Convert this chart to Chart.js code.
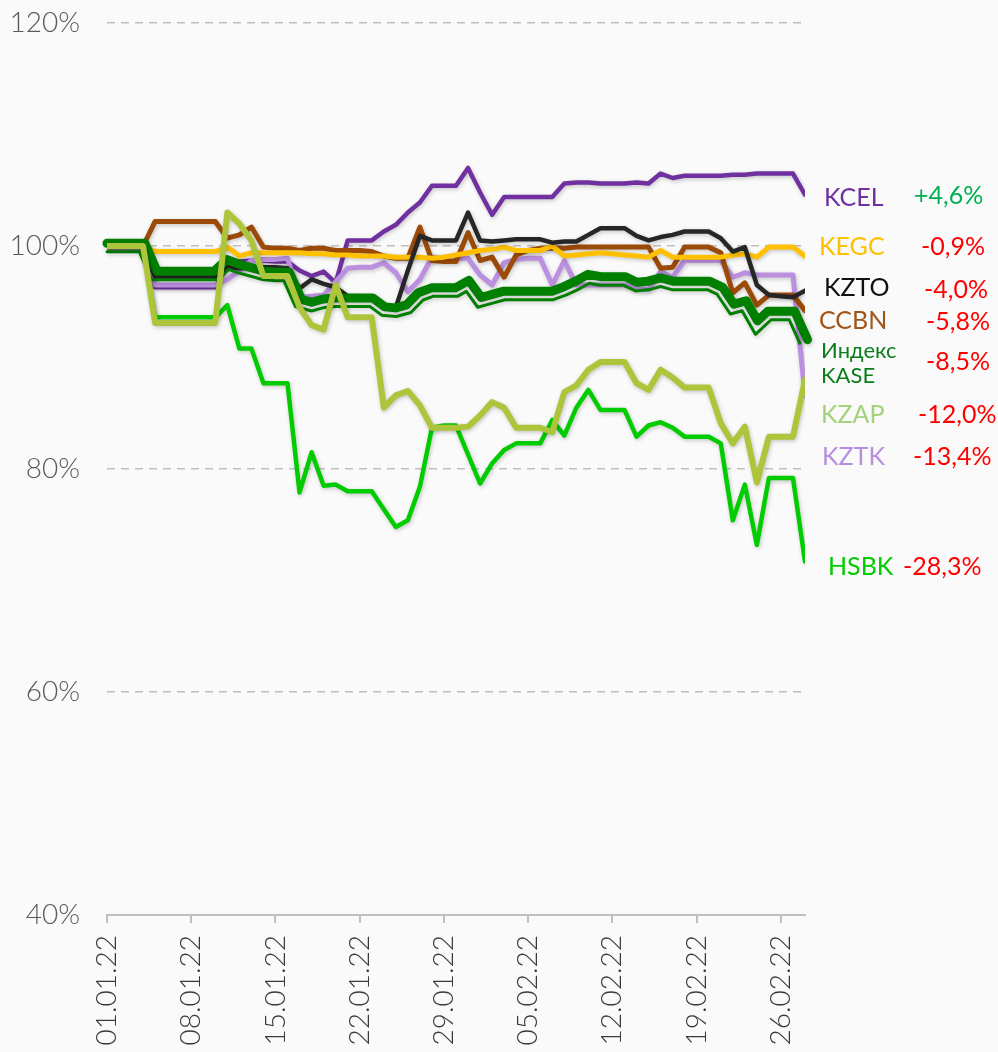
<!DOCTYPE html>
<html>
<head>
<meta charset="utf-8">
<script src="https://cdn.jsdelivr.net/npm/chart.js@4.4.1/dist/chart.umd.min.js"></script>
<style>
  html, body { margin: 0; padding: 0; background: #fafafa; }
  #wrap { position: relative; width: 998px; height: 1052px; }
</style>
</head>
<body>
<div id="wrap"><canvas id="myChart"></canvas></div>
<script>
const dates = [
  '01.01.22','02.01.22','03.01.22','04.01.22','05.01.22','06.01.22','07.01.22','08.01.22','09.01.22','10.01.22',
  '11.01.22','12.01.22','13.01.22','14.01.22','15.01.22','16.01.22','17.01.22','18.01.22','19.01.22','20.01.22',
  '21.01.22','22.01.22','23.01.22','24.01.22','25.01.22','26.01.22','27.01.22','28.01.22','29.01.22','30.01.22',
  '31.01.22','01.02.22','02.02.22','03.02.22','04.02.22','05.02.22','06.02.22','07.02.22','08.02.22','09.02.22',
  '10.02.22','11.02.22','12.02.22','13.02.22','14.02.22','15.02.22','16.02.22','17.02.22','18.02.22','19.02.22',
  '20.02.22','21.02.22','22.02.22','23.02.22','24.02.22','25.02.22','26.02.22','27.02.22','28.02.22'
];

// значения, % к 01.01.22
const kzap = [100,100,100,100,93.1,93.1,93.1,93.1,93.1,93.1,
  103.0,102.0,100.5,97.3,97.3,97.3,94.5,92.9,92.5,96.5,
  93.6,93.6,93.6,85.5,86.6,87.0,85.7,83.7,83.7,83.7,
  83.8,84.8,86.0,85.5,83.7,83.7,83.7,83.3,86.9,87.5,
  88.9,89.6,89.6,89.6,87.7,87.1,88.9,88.2,87.3,87.3,
  87.3,84.1,82.3,83.8,78.8,82.9,82.9,82.9,88.0];
const hsbk = [100,100,100,100,93.6,93.6,93.6,93.6,93.6,93.6,
  94.7,90.8,90.8,87.7,87.7,87.7,77.9,81.5,78.5,78.6,
  78.0,78.0,78.0,76.4,74.8,75.4,78.4,83.7,83.9,83.9,
  81.3,78.7,80.5,81.7,82.3,82.3,82.3,84.4,83.0,85.5,
  87.1,85.3,85.3,85.3,82.9,83.9,84.2,83.7,82.9,82.9,
  82.9,82.3,75.4,78.6,73.2,79.2,79.2,79.2,71.7];
const kase = [100,100,100,100,97.5,97.5,97.5,97.5,97.5,97.5,
  98.5,98.1,97.8,97.5,97.4,97.4,95.0,94.7,95.0,95.1,
  95.1,95.1,95.1,94.3,94.2,94.5,95.6,96.0,96.0,96.0,
  96.6,95.1,95.4,95.7,95.7,95.7,95.7,95.7,96.1,96.6,
  97.2,97.0,97.0,97.0,96.5,96.6,96.9,96.6,96.6,96.6,
  96.6,96.1,94.5,94.8,92.9,93.9,93.9,93.9,91.5];
const kzto = [100,100,100,100,97.2,97.2,97.2,97.2,97.2,97.2,
  98.1,98.0,98.1,98.1,98.1,98.0,96.2,97.0,96.6,96.3,
  95.5,95.4,95.4,94.7,94.5,97.8,100.9,100.5,100.5,100.5,
  103.0,100.5,100.4,100.5,100.6,100.6,100.6,100.3,100.4,100.4,
  101.0,101.6,101.6,101.6,100.9,100.5,100.8,101.0,101.3,101.3,
  101.3,100.7,99.5,99.9,96.5,95.6,95.5,95.4,96.0];
const kegc = [100,100,100,100,99.5,99.5,99.5,99.5,99.5,99.5,
  99.9,99.1,99.4,99.4,99.4,99.4,99.4,99.3,99.3,99.2,
  99.2,99.1,99.1,99.1,99.0,99.0,99.0,98.9,99.0,99.2,
  99.4,99.6,99.7,99.9,99.6,99.6,99.6,100.0,99.1,99.2,
  99.3,99.4,99.3,99.2,99.1,99.0,99.6,99.0,99.0,99.0,
  99.0,99.0,99.2,99.3,99.0,99.9,99.9,99.9,99.1];
const ccbn = [100,100,100,100,102.2,102.2,102.2,102.2,102.2,102.2,
  100.7,101.0,101.7,99.9,99.8,99.8,99.6,99.8,99.8,99.6,
  99.6,99.6,99.5,99.1,98.9,98.9,101.7,98.7,98.6,98.6,
  101.2,98.7,99.0,97.2,99.2,99.6,99.8,99.8,99.8,99.9,
  99.9,99.9,99.9,99.9,99.9,99.9,98.0,98.1,99.9,99.9,
  99.9,99.4,95.8,96.7,94.7,95.6,95.6,95.6,94.2];
const kztk = [100,100,100,100,96.5,96.5,96.5,96.5,96.5,96.5,
  97.0,97.8,98.7,98.8,98.8,98.9,95.4,95.5,95.6,96.8,
  98.0,98.1,98.1,98.5,97.6,95.9,97.0,99.0,98.9,98.9,
  98.9,97.4,96.5,98.5,98.8,98.9,98.9,96.5,98.7,96.5,
  96.5,96.5,96.5,96.5,96.2,96.1,97.7,97.2,98.7,98.7,
  98.7,98.7,97.2,97.6,97.4,97.4,97.4,97.4,86.6];
const kcel = [100,100,100,100,96.3,96.3,96.3,96.3,96.3,96.3,
  98.2,98.6,98.7,98.7,98.6,98.6,97.8,97.3,97.7,96.7,
  100.5,100.5,100.5,101.3,101.9,103.0,103.9,105.4,105.4,105.4,
  107.0,104.8,102.8,104.4,104.4,104.4,104.4,104.4,105.6,105.7,
  105.7,105.6,105.6,105.6,105.7,105.6,106.5,106.1,106.3,106.3,
  106.3,106.3,106.4,106.4,106.5,106.5,106.5,106.5,104.6];

const yTicks = [40, 60, 80, 100, 120];

// порядок: первый рисуется сверху
const series = [
  { name: 'KZAP', data: kzap, color: '#adc53a', width: 6,   text: '#a2d27a' },
  { name: 'HSBK', data: hsbk, color: '#00cc00', width: 4.5, text: '#00cc00' },
  { name: 'Индекс KASE', data: kase, color: '#007f00', width: 9, text: '#0b7d1b', double: true },
  { name: 'KZTO', data: kzto, color: '#262626', width: 4.5, text: '#111111' },
  { name: 'KEGC', data: kegc, color: '#ffc000', width: 5,   text: '#ffc000' },
  { name: 'CCBN', data: ccbn, color: '#9c4a08', width: 5,   text: '#a0561a' },
  { name: 'KZTK', data: kztk, color: '#bb90e0', width: 5,   text: '#b68fe0' },
  { name: 'KCEL', data: kcel, color: '#7030a0', width: 4.5, text: '#7030a0' }
];

// подписи справа (пиксели)
const tags = {
  'KCEL':        { nx: 824, ny: [197], px: 914, py: 195 },
  'KEGC':        { nx: 819, ny: [246], px: 921, py: 246 },
  'KZTO':        { nx: 824, ny: [287], px: 924, py: 289 },
  'CCBN':        { nx: 819, ny: [320], px: 926, py: 321 },
  'Индекс KASE': { nx: 821, ny: [350, 375], px: 926, py: 361, small: true },
  'KZAP':        { nx: 821, ny: [414], px: 918, py: 414 },
  'KZTK':        { nx: 822, ny: [456], px: 913, py: 456 },
  'HSBK':        { nx: 828, ny: [566], px: 903, py: 566 }
};

function normal(a, b) {
  const dx = b.x - a.x, dy = b.y - a.y;
  const l = Math.hypot(dx, dy) || 1;
  return { x: -dy / l, y: dx / l };
}

// параллельная линия на расстоянии off
function strokeOffset(ctx, pts, off, width, color) {
  ctx.beginPath();
  for (let i = 0; i < pts.length; i++) {
    const n1 = i > 0 ? normal(pts[i - 1], pts[i]) : null;
    const n2 = i < pts.length - 1 ? normal(pts[i], pts[i + 1]) : null;
    let nx, ny, k = 1;
    if (n1 && n2) {
      nx = n1.x + n2.x; ny = n1.y + n2.y;
      const l = Math.hypot(nx, ny) || 1;
      nx /= l; ny /= l;
      k = 1 / Math.max(nx * n1.x + ny * n1.y, 0.5);
    } else {
      const n = n1 || n2; nx = n.x; ny = n.y;
    }
    const x = pts[i].x + nx * off * k, y = pts[i].y + ny * off * k;
    if (i === 0) ctx.moveTo(x, y); else ctx.lineTo(x, y);
  }
  ctx.strokeStyle = color;
  ctx.lineWidth = width;
  ctx.lineJoin = 'round';
  ctx.lineCap = 'round';
  ctx.stroke();
}

const lineFx = {
  id: 'lineFx',
  beforeDatasetDraw(chart) {
    const ctx = chart.ctx;
    ctx.save();
    ctx.shadowColor = 'rgba(0,0,0,0.22)';
    ctx.shadowBlur = 4;
    ctx.shadowOffsetX = 1;
    ctx.shadowOffsetY = 1.5;
  },
  afterDatasetDraw(chart, args) {
    const ctx = chart.ctx;
    const s = series[args.index];
    if (s.double) {
      // двойная линия "толстая-тонкая"
      const pts = args.meta.data.map(p => ({ x: p.x, y: p.y }));
      strokeOffset(ctx, pts, -2.75, s.width, s.color);
      strokeOffset(ctx, pts, 5.75, 3, s.color);
    }
    ctx.restore();
  },
  afterDraw(chart) {
    const ctx = chart.ctx;
    ctx.save();
    series.forEach(s => {
      const t = tags[s.name];
      const size = t.small ? 22 : 25;
      ctx.font = '400 ' + size + 'px Lato, "Noto Sans", sans-serif';
      ctx.textBaseline = 'alphabetic';
      ctx.textAlign = 'left';
      ctx.fillStyle = s.text;
      const lines = s.name.split(' ');
      t.ny.forEach((y, i) => ctx.fillText(lines[i], t.nx, y + size * 0.36));
      const last = s.data[s.data.length - 1] - 100;
      const pct = (last > 0 ? '+' : '') + last.toFixed(1).replace('.', ',') + '%';
      ctx.font = '400 25px Lato, "Noto Sans", sans-serif';
      ctx.fillStyle = last > 0 ? '#00b050' : '#ff0000';
      ctx.fillText(pct, t.px, t.py + 25 * 0.36);
    });
    ctx.restore();
  }
};

const config = {
  type: 'line',
  data: {
    datasets: series.map(s => ({
      label: s.name,
      data: s.data.map((v, i) => ({ x: i, y: v })),
      borderColor: s.double ? 'rgba(0,0,0,0)' : s.color,
      borderWidth: s.width,
      pointRadius: 0,
      tension: 0,
      fill: false,
      borderJoinStyle: 'round',
      borderCapStyle: 'round'
    }))
  },
  options: {
    responsive: true,
    maintainAspectRatio: false,
    animation: false,
    layout: { padding: { left: 0, right: 193, top: 23, bottom: 0 } },
    plugins: {
      legend: { display: false },
      tooltip: { enabled: false }
    },
    scales: {
      x: {
        type: 'linear',
        min: 0,
        max: dates.length - 1,
        afterFit: (scale) => { scale.height = 137; },
        grid: { drawOnChartArea: false, drawTicks: true, tickLength: 8, color: '#bfbfbf', lineWidth: 2 },
        border: { display: true, color: '#bfbfbf', width: 2 },
        ticks: {
          stepSize: 7,
          includeBounds: false,
          autoSkip: false,
          maxRotation: 90,
          minRotation: 90,
          padding: 12,
          color: '#3a3a3a',
          font: { family: 'Lato, "Noto Sans", sans-serif', size: 28, weight: 300 },
          callback: (v) => dates[v]
        }
      },
      y: {
        min: yTicks[0],
        max: yTicks[yTicks.length - 1],
        afterFit: (scale) => {
          scale.width = 107;
          scale.paddingTop = 0;
          scale.paddingBottom = 0;
        },
        grid: { drawTicks: false, color: '#bfbfbf', lineWidth: 1.5 },
        border: { display: false, dash: [8, 6] },
        ticks: {
          stepSize: 20,
          padding: 27,
          color: '#5a5a5a',
          font: { family: 'Lato, "Noto Sans", sans-serif', size: 28, weight: 300 },
          callback: (v) => v + '%'
        }
      }
    }
  },
  plugins: [lineFx]
};

const myChart = new Chart(document.getElementById('myChart'), config);
</script>
</body>
</html>
